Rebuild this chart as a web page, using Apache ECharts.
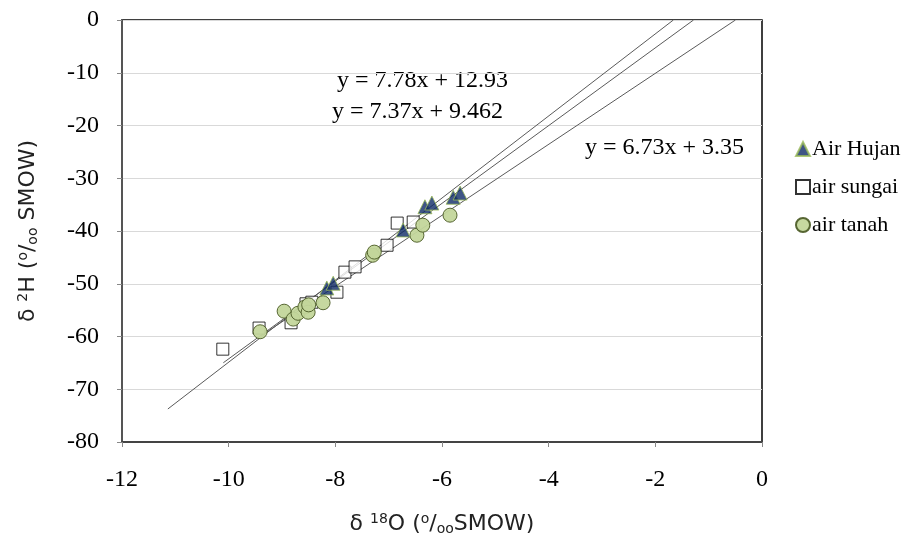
<!DOCTYPE html>
<html>
<head>
<meta charset="utf-8">
<script src="https://cdn.jsdelivr.net/npm/echarts@6/dist/echarts.min.js"></script>
<style>html,body{margin:0;padding:0;background:#fff}#c{width:904px;height:542px}</style>
</head>
<body>
<div id="c"></div>
<script>
var seriesNames = ['Air Hujan', 'air sungai', 'air tanah'];
var hujanX = [-8.16, -8.04, -6.73, -6.32, -6.19, -5.79, -5.66];
var hujanY = [-50.8, -49.9, -39.8, -35.4, -34.7, -33.6, -32.8];
var sungaiX = [-10.11, -9.43, -8.83, -8.55, -8.44, -7.97, -7.82, -7.63, -7.03, -6.84, -6.54];
var sungaiY = [-62.4, -58.4, -57.4, -53.8, -53.5, -51.6, -47.8, -46.8, -42.7, -38.5, -38.3];
var tanahX = [-9.41, -8.96, -8.79, -8.70, -8.57, -8.51, -8.50, -8.23, -7.30, -7.27, -6.47, -6.36, -5.85];
var tanahY = [-59.1, -55.2, -56.7, -55.6, -54.4, -55.4, -54.0, -53.6, -44.6, -44.0, -40.8, -38.9, -37.0];
var trendSlope = [7.78, 7.37, 6.73];
var trendIntercept = [12.93, 9.462, 3.35];
var trendXStart = [-11.14, -10.1, -9.4];
var trendXEnd = [-1.662, -1.284, -0.498];
var trendLabels = ['y = 7.78x + 12.93', 'y = 7.37x + 9.462', 'y = 6.73x + 3.35'];
var xTicks = [-12, 0, 2];
var yTicks = [-80, 0, 10];

function zip(a, b) { return a.map(function (v, i) { return [v, b[i]]; }); }

var chart = echarts.init(document.getElementById('c'), null, {renderer: 'canvas'});
var serif = 'Liberation Serif';
var sans = 'DejaVu Sans';

var trendSeries = trendSlope.map(function (m, i) {
  return {
    type: 'line', silent: true, symbol: 'none', z: 1,
    lineStyle: {color: '#5a5a5a', width: 1},
    data: [[trendXStart[i], m * trendXStart[i] + trendIntercept[i]], [trendXEnd[i], m * trendXEnd[i] + trendIntercept[i]]]
  };
});

var titleRich = {
  t: {fontFamily: sans, fontSize: 22, color: '#222'},
  sup: {fontFamily: sans, fontSize: 14, color: '#222', verticalAlign: 'top', padding: [0, 0, 10, 0]},
  sub: {fontFamily: sans, fontSize: 14, color: '#222', verticalAlign: 'bottom', padding: [8, 0, 0, 0]}
};

chart.setOption({
  animation: false,
  grid: {left: 122, right: 142, top: 20, bottom: 100, show: true, borderColor: '#000', borderWidth: 1.5, backgroundColor: 'transparent'},
  legend: {
    orient: 'vertical', left: 790, top: 133, itemWidth: 14, itemHeight: 14, itemGap: 16,
    data: seriesNames,
    textStyle: {fontFamily: serif, fontSize: 22, color: '#000', padding: [0, 0, 0, -3]}
  },
  xAxis: {
    type: 'value', min: xTicks[0], max: xTicks[1], interval: xTicks[2],
    axisLine: {show: true, onZero: false, lineStyle: {color: '#444', width: 2}},
    axisTick: {show: true, length: 5, lineStyle: {color: '#888'}},
    axisLabel: {fontFamily: serif, fontSize: 24, color: '#000', margin: 26},
    splitLine: {show: false},
    nameLocation: 'middle', nameGap: 70,
    name: '{t|δ }{sup|18}{t|O (}{sup|o}{t|/}{sub|oo}{t|SMOW)}',
    nameTextStyle: {rich: titleRich}
  },
  yAxis: {
    type: 'value', min: yTicks[0], max: yTicks[1], interval: yTicks[2],
    axisLine: {show: true, onZero: false, lineStyle: {color: '#555', width: 2}},
    axisTick: {show: true, length: 5, lineStyle: {color: '#888'}},
    axisLabel: {fontFamily: serif, fontSize: 24, color: '#000', margin: 23},
    splitLine: {show: true, lineStyle: {color: '#d9d9d9', width: 1}},
    nameLocation: 'middle', nameGap: 82, nameRotate: 90,
    name: '{t|δ }{sup|2}{t|H (}{sup|o}{t|/}{sub|oo}{t| SMOW)}',
    nameTextStyle: {rich: titleRich}
  },
  graphic: [
    {type: 'text', left: 337, top: 69, style: {text: trendLabels[0], font: '24px "Liberation Serif"', fill: '#000'}},
    {type: 'text', left: 332, top: 100, style: {text: trendLabels[1], font: '24px "Liberation Serif"', fill: '#000'}},
    {type: 'text', left: 585, top: 136, style: {text: trendLabels[2], font: '24px "Liberation Serif"', fill: '#000'}}
  ],
  series: trendSeries.concat([
    {name: seriesNames[1], type: 'scatter', z: 3, symbol: 'rect', symbolSize: 12,
      itemStyle: {color: '#fff', borderColor: '#000', borderWidth: 1}, data: zip(sungaiX, sungaiY)},
    {name: seriesNames[2], type: 'scatter', z: 4, symbol: 'circle', symbolSize: 14,
      itemStyle: {color: '#c3d69b', borderColor: '#4f5f2a', borderWidth: 1, opacity: 0.95}, data: zip(tanahX, tanahY)},
    {name: seriesNames[0], type: 'scatter', z: 5, symbol: 'triangle', symbolSize: 14,
      itemStyle: {color: '#0f2b66', borderColor: '#9bbb59', borderWidth: 1}, data: zip(hujanX, hujanY)}
  ])
});
</script>
</body>
</html>
